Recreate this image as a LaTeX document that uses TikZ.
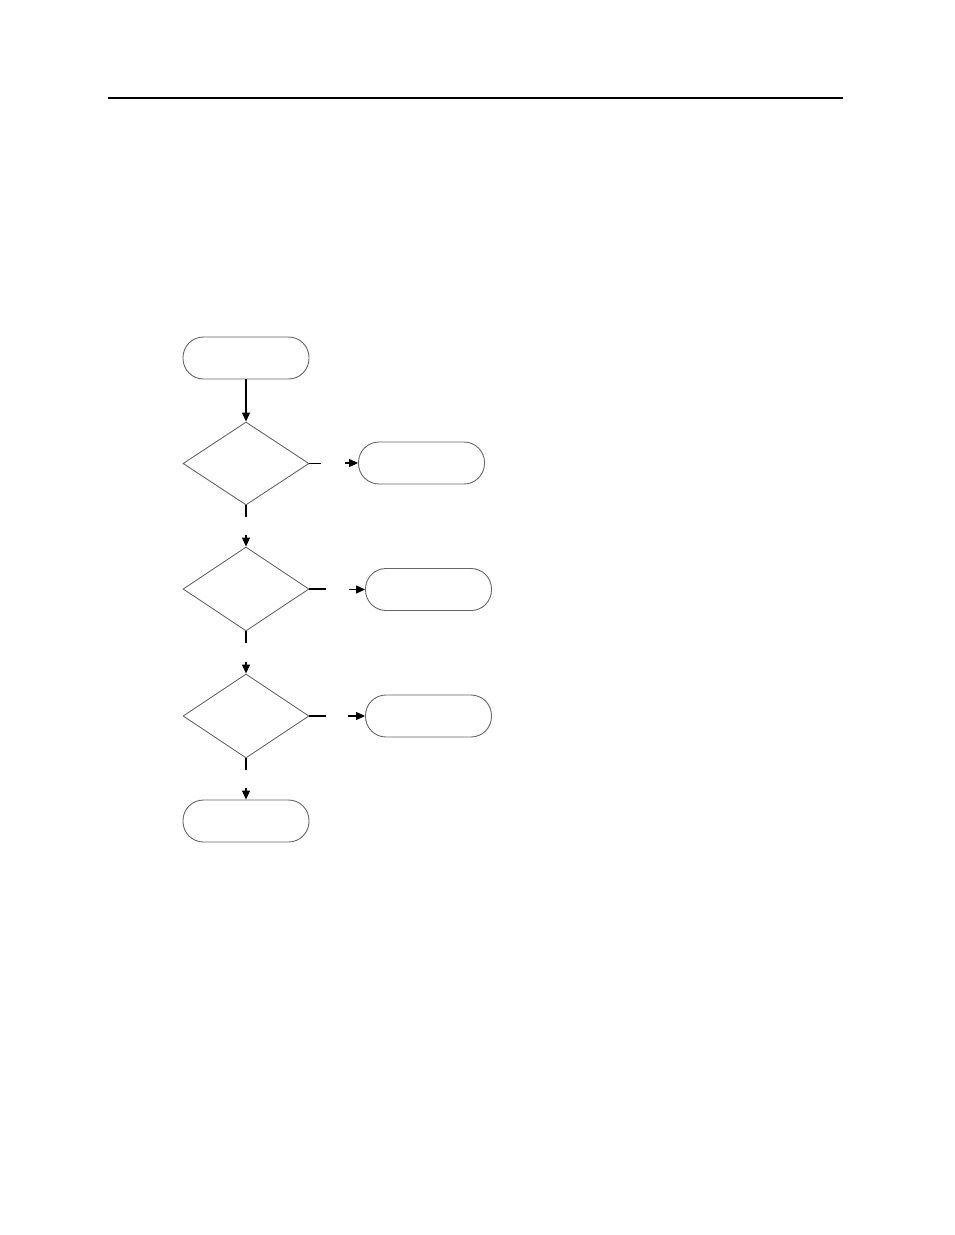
\documentclass[tikz,border=0pt]{standalone}
\usetikzlibrary{shapes.geometric,arrows.meta}
\begin{document}
\begin{tikzpicture}[x=1pt,y=-1pt,
  termbox/.style={draw=black!60,line width=0.9pt,rectangle,rounded corners=20.5pt,minimum width=126pt,minimum height=42pt,inner sep=0pt},
  decbox/.style={draw=black!60,line width=0.9pt,diamond,minimum width=126pt,minimum height=83pt,inner sep=0pt},
  conn/.style={draw=black,line width=1.2pt},
  arr/.style={conn,-{Triangle[length=9pt,width=8pt]}}]
\useasboundingbox (0,0) rectangle (954,1235);
\draw[line width=1.3pt] (108,98) coordinate (la) -- (843,98) coordinate (lb);
\node[termbox] (start) at (246,358) {};
\node[decbox] (d1) at (246,463.5) {};
\node[termbox] (b1) at (421.5,463) {};
\node[decbox,minimum height=84pt] (d2) at (246,589) {};
\node[termbox] (b2) at (428.5,589.5) {};
\node[decbox,minimum height=84pt] (d3) at (246,716) {};
\node[termbox] (b3) at (428.5,716) {};
\node[termbox] (end) at (246,821) {};
% coordinates
\coordinate (s1e) at (321,463.5);
\coordinate (a1e) at (345,463);
\coordinate (s1d) at (246,517);
\coordinate (a1d) at (246,535);
\coordinate (s2e) at (326,589);
\coordinate (a2e) at (349,589.5);
\coordinate (s2d) at (246,643);
\coordinate (a2d) at (246,662);
\coordinate (s3e) at (326,716);
\coordinate (a3e) at (348,716);
\coordinate (s3d) at (246,770);
\coordinate (a3d) at (246,788);
% connectors
\draw[arr] (start) -- (d1);
\draw[conn] (d1.east) -- (s1e);
\draw[arr] (a1e) -- (b1.west);
\draw[conn] (d1.south) -- (s1d);
\draw[arr] (a1d) -- (d2.north);
\draw[conn] (d2.east) -- (s2e);
\draw[arr] (a2e) -- (b2.west);
\draw[conn] (d2.south) -- (s2d);
\draw[arr] (a2d) -- (d3.north);
\draw[conn] (d3.east) -- (s3e);
\draw[arr] (a3e) -- (b3.west);
\draw[conn] (d3.south) -- (s3d);
\draw[arr] (a3d) -- (end.north);
\end{tikzpicture}
\end{document}
